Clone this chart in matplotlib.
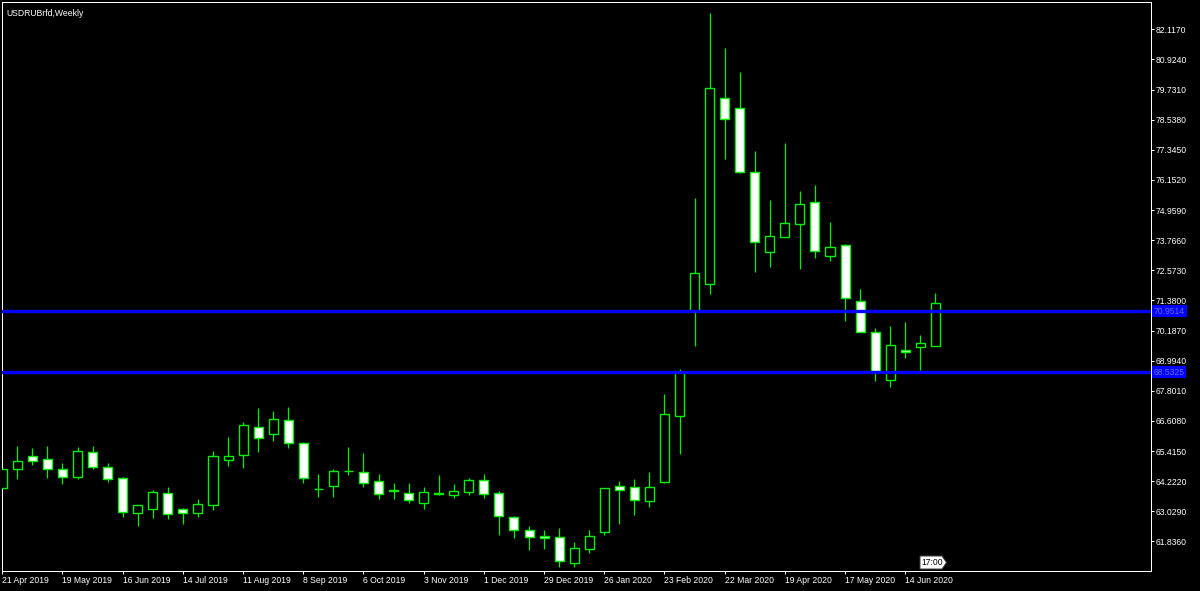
import matplotlib
matplotlib.use("Agg")
import matplotlib.pyplot as plt
import matplotlib.transforms as mtransforms
from matplotlib.patches import Polygon

plt.rcParams['font.family'] = ['Liberation Sans', 'DejaVu Sans']

title = "USDRUBrfd,Weekly"

opens = [63.951, 64.691, 65.230, 65.087, 64.703, 64.398, 65.376, 64.770, 64.335, 62.949,
         63.107, 63.741, 63.119, 62.949, 63.277, 65.071, 65.246, 66.355, 66.077, 66.644,
         65.721, 63.899, 64.042, 64.624, 64.596, 64.228, 63.844, 63.741, 63.345, 63.733,
         63.685, 63.792, 64.256, 63.741, 62.802, 62.275, 62.062, 61.998, 60.992, 61.523,
         62.196, 64.042, 63.990, 63.424, 64.176, 66.790, 70.961, 72.018, 79.384, 78.988,
         76.477, 73.285, 73.879, 74.394, 75.289, 73.127, 73.574, 71.368, 70.117, 68.216,
         69.404, 69.547, 69.574]
highs = [64.822, 65.614, 65.535, 65.614, 64.941, 65.574, 65.614, 64.941, 64.386, 63.265,
         63.871, 63.978, 63.170, 63.503, 65.416, 65.982, 66.576, 67.107, 67.000, 67.147,
         65.761, 64.505, 64.715, 65.586, 65.349, 64.493, 64.160, 64.160, 64.002, 64.465,
         64.121, 64.335, 64.505, 63.832, 62.830, 62.446, 62.299, 62.366, 61.812, 62.287,
         63.939, 64.228, 64.307, 64.584, 67.662, 68.664, 75.448, 82.751, 81.365, 80.438,
         77.309, 75.345, 77.602, 75.713, 75.939, 74.473, 73.602, 71.820, 70.275, 70.378,
         70.525, 70.010, 71.662]
lows = [63.871, 64.307, 64.873, 64.359, 64.121, 64.307, 64.715, 64.200, 62.790, 62.458,
        62.751, 62.723, 62.525, 62.790, 63.079, 64.834, 64.755, 65.388, 65.812, 65.547,
        64.137, 63.606, 63.582, 64.465, 63.990, 63.515, 63.515, 63.345, 63.119, 63.674,
        63.566, 63.674, 63.566, 62.101, 61.970, 61.483, 61.547, 60.834, 60.834, 61.376,
        62.089, 62.537, 62.893, 63.198, 64.149, 65.285, 69.574, 71.622, 76.968, 76.414,
        72.517, 72.715, 73.879, 72.612, 73.071, 72.929, 70.576, 70.117, 68.200, 67.963,
        69.111, 68.624, 69.574]
closes = [64.703, 65.008, 65.032, 64.691, 64.374, 65.416, 64.770, 64.319, 62.988, 63.265,
          63.780, 62.909, 62.949, 63.305, 65.206, 65.206, 66.434, 65.919, 66.683, 65.721,
          64.335, 63.911, 64.636, 64.644, 64.137, 63.701, 63.851, 63.464, 63.780, 63.753,
          63.820, 64.256, 63.725, 62.830, 62.275, 62.010, 61.983, 61.048, 61.574, 62.038,
          63.939, 63.883, 63.464, 64.002, 66.869, 68.545, 72.454, 79.804, 78.553, 76.454,
          73.681, 73.919, 74.434, 75.186, 73.325, 73.507, 71.487, 70.117, 68.584, 69.602,
          69.325, 69.693, 71.266]

date_labels = ['21 Apr 2019', '19 May 2019', '16 Jun 2019', '14 Jul 2019', '11 Aug 2019',
               '8 Sep 2019', '6 Oct 2019', '3 Nov 2019', '1 Dec 2019', '29 Dec 2019',
               '26 Jan 2020', '23 Feb 2020', '22 Mar 2020', '19 Apr 2020', '17 May 2020',
               '14 Jun 2020']
date_positions = [0, 4, 8, 12, 16, 20, 24, 28, 32, 36, 40, 44, 48, 52, 56, 60]

price_ticks = [82.117, 80.924, 79.731, 78.538, 77.345, 76.152, 74.959, 73.766, 72.573,
               71.380, 70.187, 68.994, 67.801, 66.608, 65.415, 64.222, 63.029, 61.836]

hlines = [70.9514, 68.5325]
timer_label = "17:00"

GREEN = '#00f000'
W, H = 1200, 591
fig = plt.figure(figsize=(W / 100, H / 100), dpi=100, facecolor='black')
ax = fig.add_axes([2 / W, 20 / H, 1149 / W, 569 / H])
ax.set_facecolor('black')

n = len(opens)
xs = list(range(n))
px = 0.72  # 1 pixel in points

# wicks
ax.vlines(xs, lows, highs, color=GREEN, linewidth=0.9, zorder=2)
# bodies
bottoms = [min(o, c) for o, c in zip(opens, closes)]
heights = [max(abs(c - o), 0.012) for o, c in zip(opens, closes)]
faces = ['black' if c >= o else 'white' for o, c in zip(opens, closes)]
ax.bar(xs, heights, bottom=bottoms, width=0.6, color=faces, edgecolor=GREEN,
       linewidth=1.0, zorder=3)

# horizontal lines
trans = mtransforms.blended_transform_factory(ax.transAxes, ax.transData)
for v in hlines:
    ax.axhline(v, color='#0000ff', linewidth=2.4, zorder=4)
    ax.text(1.0025, v, f"{v:.4f}", transform=trans, ha='left', va='center',
            fontsize=6.2, color='#6b6bd6', clip_on=False,
            bbox=dict(boxstyle='square,pad=0.18', fc='#0000ff', ec='none'))

ax.set_xlim(-0.02, 76.33)
ax.set_ylim(60.664, 83.198)

ax.set_xticks(date_positions)
ax.set_xticklabels(date_labels, ha='left')
ax.yaxis.tick_right()
ax.set_yticks(price_ticks)
ax.set_yticklabels([f"{v:.4f}" for v in price_ticks])
ax.tick_params(axis='both', colors='white', labelcolor='white', labelsize=6.2,
               length=2.2, width=px, direction='out')
ax.tick_params(axis='y', pad=0.8)
ax.tick_params(axis='x', pad=1.5)
for s in ax.spines.values():
    s.set_color('white')
    s.set_linewidth(px)

ax.text(0.004, 0.988, title, transform=ax.transAxes, ha='left', va='top',
        fontsize=6.2, color='white')

# timer marker near bottom axis
pts = [(920, 556), (942, 556), (946.5, 562.5), (942, 569), (920, 569)]
poly = Polygon([(x / W, (H - y) / H) for x, y in pts], closed=True,
               transform=fig.transFigure, facecolor='white', edgecolor='#404040',
               linewidth=px, zorder=10)
fig.patches.append(poly)
fig.text(921.5 / W, (H - 562.5) / H, timer_label, ha='left', va='center',
         fontsize=6.2, color='black', zorder=11)

fig.savefig('out.png', dpi=100, facecolor='black')
